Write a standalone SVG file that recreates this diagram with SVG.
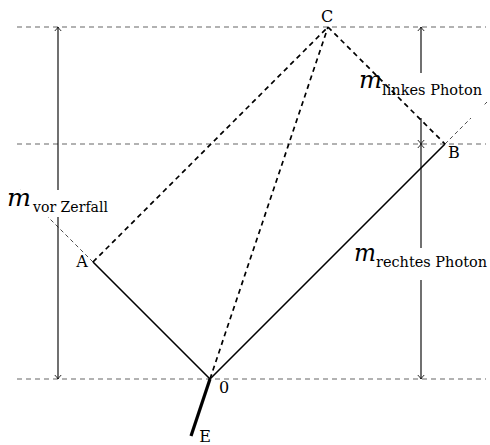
<svg xmlns="http://www.w3.org/2000/svg" width="490" height="445" viewBox="0 0 490 445">
<style>
.grid{stroke:#666;stroke-width:1.2;stroke-dasharray:5 4;fill:none}
.ext{stroke:#000;stroke-width:0.7;stroke-dasharray:4 3;fill:none}
.thickdash{stroke:#000;stroke-width:1.7;stroke-dasharray:5 4;fill:none}
.solid{stroke:#000;stroke-width:1.6;fill:none}
.arrow{stroke:#111;stroke-width:1.2;fill:none;marker-start:url(#ah);marker-end:url(#ah)}
.pt{font-family:"DejaVu Serif","Liberation Serif",serif;font-size:16px;fill:#000;text-anchor:middle}
.m{font-family:"DejaVu Serif","Liberation Serif",serif;font-style:italic;font-size:24px;fill:#000}
.sub{font-family:"DejaVu Serif","Liberation Serif",serif;font-size:14px;fill:#000}
.bg{fill:#fff}
</style>
<defs>
<marker id="ah" viewBox="-5 -4 6 8" refX="0" refY="0" markerWidth="6" markerHeight="8" orient="auto-start-reverse" markerUnits="userSpaceOnUse">
<path d="M-4,-3.2 Q-1.5,-0.8 0,0 Q-1.5,0.8 -4,3.2" stroke="#111" stroke-width="0.9" fill="none"/>
</marker>
</defs>
<rect width="490" height="445" fill="#fff"/>
<g id="grid">
<line class="grid" x1="17" y1="27" x2="486" y2="27"/>
<line class="grid" x1="17" y1="144" x2="486" y2="144"/>
<line class="grid" x1="17" y1="379" x2="486" y2="379"/>
</g>
<g id="measures">
<line class="arrow" x1="58" y1="27" x2="58" y2="379"/>
<line class="arrow" x1="421" y1="27" x2="421" y2="144"/>
<line class="arrow" x1="421" y1="144" x2="421" y2="379"/>
<line class="ext" x1="93" y1="262" x2="20" y2="189"/>
<line class="ext" x1="445" y1="144" x2="487" y2="102"/>
</g>
<g id="label-vor">
<rect class="bg" x="5" y="190" width="105" height="27"/>
<text class="m" x="7" y="206" textLength="24" lengthAdjust="spacingAndGlyphs">m</text>
<text class="sub" x="33" y="212" textLength="75" lengthAdjust="spacingAndGlyphs">vor Zerfall</text>
</g>
<g id="label-links">
<rect class="bg" x="358" y="73" width="126" height="45"/>
<text class="m" x="359" y="88" textLength="23" lengthAdjust="spacingAndGlyphs">m</text>
<text class="sub" x="382" y="95" textLength="100" lengthAdjust="spacingAndGlyphs">linkes Photon</text>
</g>
<g id="label-rechts">
<rect class="bg" x="353" y="248" width="135" height="32"/>
<text class="m" x="354" y="261" textLength="22" lengthAdjust="spacingAndGlyphs">m</text>
<text class="sub" x="376" y="267" textLength="111" lengthAdjust="spacingAndGlyphs">rechtes Photon</text>
</g>
<g id="connectors">
<line class="solid" x1="93" y1="262" x2="210" y2="379"/>
<line class="solid" x1="210" y1="379" x2="445" y2="144"/>
<line class="thickdash" x1="93" y1="262" x2="328" y2="27"/>
<line class="thickdash" x1="328" y1="27" x2="445" y2="144"/>
<line class="thickdash" x1="210" y1="379" x2="328" y2="27"/>
<line stroke="#000" stroke-width="3.2" x1="191" y1="436" x2="210" y2="379"/>
</g>
<g id="A"><text class="pt" x="82" y="267">A</text></g>
<g id="B"><text class="pt" x="454" y="158">B</text></g>
<g id="C"><text class="pt" x="327" y="22">C</text></g>
<g id="O"><text class="pt" x="224" y="393">0</text></g>
<g id="E"><text class="pt" x="205" y="442">E</text></g>
</svg>
